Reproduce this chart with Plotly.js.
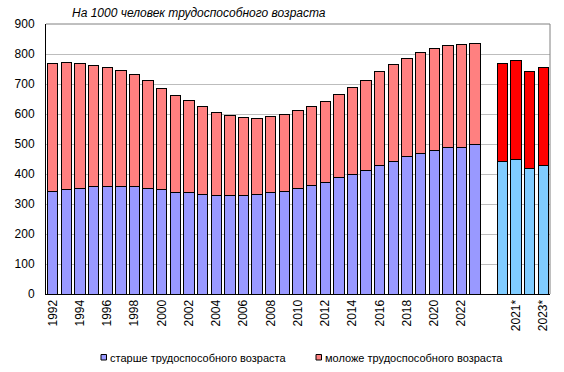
<!DOCTYPE html>
<html>
<head>
<meta charset="utf-8">
<script src="https://cdn.plot.ly/plotly-3.0.1.min.js"></script>
<style>html,body{margin:0;padding:0;background:#fff;}#chart{width:564px;height:372px;}</style>
</head>
<body>
<div id="chart"></div>
<script>
// Categories: 1992..2023, a gap, then scenario years 2020*..2023*
const categories = ["1992","1993","1994","1995","1996","1997","1998","1999","2000","2001",
  "2002","2003","2004","2005","2006","2007","2008","2009","2010","2011","2012","2013",
  "2014","2015","2016","2017","2018","2019","2020","2021","2022","2023"," ",
  "2020*","2021*","2022*","2023*"];

// Older than working age, per 1000 of working age
const olderValues = [343,350,353,357,357,360,360,353,348,340,
  340,333,327,327,327,333,337,343,353,363,373,387,
  400,413,430,443,457,470,480,490,490,497,null,
  443,450,420,430];

// Total dependency (older + younger)
const totalValues = [769,772,769,762,756,746,732,712,686,662,
  646,626,606,596,589,586,592,599,612,626,642,666,
  689,712,742,766,785,806,820,830,833,836,null,
  769,779,742,756];

const youngerValues = totalValues.map((t, i) => (t === null || olderValues[i] === null) ? null : t - olderValues[i]);

const seriesNames = ["старше трудоспособного возраста", "моложе трудоспособного возраста"];
const titleText = "На 1000 человек трудоспособного возраста";
const yTicks = [0,100,200,300,400,500,600,700,800,900];

const isForecast = categories.map(c => c.indexOf("*") >= 0);
const olderColors = isForecast.map(f => f ? "#80CCFF" : "#9999FF");
const youngerColors = isForecast.map(f => f ? "#FF0000" : "#FF8080");

const tickCats = categories.filter((c, i) => i % 2 === 0);

const font = "Liberation Sans, Arial, sans-serif";

const traces = [
  {type: "bar", x: categories, y: olderValues, name: seriesNames[0],
   marker: {color: olderColors, line: {color: "#000", width: 1}}, showlegend: false, hoverinfo: "x+y"},
  {type: "bar", x: categories, y: youngerValues, name: seriesNames[1],
   marker: {color: youngerColors, line: {color: "#000", width: 1}}, showlegend: false, hoverinfo: "x+y"}
];

// plot-area pixel helpers for the custom legend
const L = 46, R = 550, T = 24, B = 294;
const px = x => (x - L) / (R - L);
const py = y => (B - y) / (B - T);

const layout = {
  width: 564, height: 372,
  margin: {l: L, r: 564 - R, t: T, b: 372 - B, pad: 0},
  paper_bgcolor: "#fff", plot_bgcolor: "#fff",
  barmode: "stack", bargap: 0.24,
  font: {family: font, size: 12, color: "#000"},
  xaxis: {type: "category", categoryorder: "array", categoryarray: categories,
    tickmode: "array", tickvals: tickCats, ticktext: tickCats,
    tickangle: -90, tickfont: {size: 12, family: font}, ticks: "",
    showline: true, linecolor: "#000", linewidth: 1, mirror: false,
    showgrid: false, zeroline: false, fixedrange: true},
  yaxis: {range: [0, 900], tickvals: yTicks, ticktext: yTicks.map(String),
    tickfont: {size: 12, family: font}, ticks: "", ticklabelstandoff: 8,
    showline: true, linecolor: "#000", linewidth: 1,
    showgrid: true, gridcolor: "#BDBDBD", gridwidth: 1, zeroline: false, fixedrange: true},
  showlegend: false,
  shapes: [
    // plot frame top & right
    {type: "line", xref: "paper", yref: "paper", x0: 0, x1: 1, y0: 1, y1: 1, line: {color: "#808080", width: 1}},
    {type: "line", xref: "paper", yref: "paper", x0: 1, x1: 1, y0: 0, y1: 1, line: {color: "#808080", width: 1}},
    // legend markers
    {type: "rect", xref: "paper", yref: "paper", x0: px(101), x1: px(106.5), y0: py(360), y1: py(354.5),
     fillcolor: "#9999FF", line: {color: "#000", width: 1}},
    {type: "rect", xref: "paper", yref: "paper", x0: px(316), x1: px(321.5), y0: py(360), y1: py(354.5),
     fillcolor: "#FF8080", line: {color: "#000", width: 1}}
  ],
  annotations: [
    {text: titleText, xref: "paper", yref: "paper", x: px(70), y: py(13), xanchor: "left", yanchor: "middle",
     showarrow: false, font: {family: font, size: 12, style: "italic", color: "#000"}},
    {text: seriesNames[0], xref: "paper", yref: "paper", x: px(108), y: py(357.5), xanchor: "left", yanchor: "middle",
     showarrow: false, font: {family: font, size: 11, color: "#000"}},
    {text: seriesNames[1], xref: "paper", yref: "paper", x: px(323), y: py(357.5), xanchor: "left", yanchor: "middle",
     showarrow: false, font: {family: font, size: 11, color: "#000"}}
  ]
};

Plotly.newPlot("chart", traces, layout, {displayModeBar: false, staticPlot: true});
</script>
</body>
</html>
